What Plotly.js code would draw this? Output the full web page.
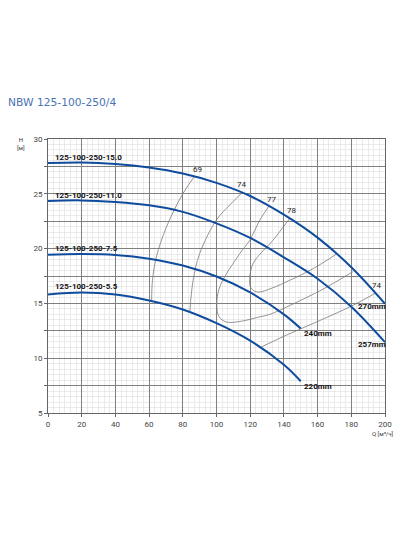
<!DOCTYPE html>
<html>
<head>
<meta charset="utf-8">
<script src="https://cdn.plot.ly/plotly-3.0.1.min.js"></script>
<style>html,body{margin:0;padding:0;background:#fff;}#chart{width:400px;height:534px;}</style>
</head>
<body>
<div id="chart"></div>
<script>
// Pump curves (Q in m3/h, H in m)
const q270 = [0, 20, 40, 60, 80, 100, 120, 140, 160, 180, 200];
const h270 = [27.8, 27.85, 27.72, 27.4, 26.85, 26.0, 24.8, 23.1, 21.0, 18.3, 14.97];
const q257 = [0, 20, 40, 60, 80, 100, 120, 140, 160, 180, 200];
const h257 = [24.35, 24.4, 24.25, 23.95, 23.35, 22.3, 20.97, 19.2, 17.25, 14.7, 11.46];
const q240 = [0, 20, 40, 60, 80, 100, 120, 140, 150];
const h240 = [19.45, 19.5, 19.42, 19.08, 18.45, 17.45, 16.0, 14.0, 12.7];
const q220 = [0, 20, 40, 60, 80, 100, 120, 140, 150];
const h220 = [15.82, 16.0, 15.82, 15.27, 14.45, 13.2, 11.6, 9.4, 7.9];

// Efficiency iso-lines
const qE69 = [87.0, 80.1, 70.3, 64.3, 62.0, 61.5];
const hE69 = [26.6, 25.03, 21.98, 19.23, 17.1, 15.25];
const qE74a = [114.8, 108, 99.9, 90, 86.1, 84.2];
const hE74a = [25.05, 24.0, 22.6, 19.54, 17.1, 14.3];
const qE77 = [131, 125.7, 119.7, 113.8, 101.9, 100.2, 101.5, 105.9, 115.7, 123.7, 131.6, 143.4, 163.2, 181];
const hE77 = [23.85, 22.6, 20.76, 19.54, 16.5, 14.8, 13.8, 13.3, 13.4, 13.7, 14.0, 14.8, 16.3, 17.9];
const qE78 = [143.4, 133.5, 121.7, 119.7, 121, 124.6, 133, 143.4, 157.3, 171.2];
const hE78 = [22.74, 20.76, 18.63, 16.8, 16.3, 16.03, 16.4, 17.1, 18.17, 19.5];
const qE74b = [194.5, 180, 160, 140, 125.7];
const hE74b = [15.95, 14.75, 13.35, 12.0, 10.95];

// Labels
const modelNames = ['125-100-250-15.0', '125-100-250-11.0', '125-100-250-7.5', '125-100-250-5.5'];
const modelQ = [3, 3, 3, 3];
const modelH = [28.3, 24.8, 20.0, 16.5];
const diamNames = ['270mm', '257mm', '240mm', '220mm'];
const diamQ = [183, 183, 151, 151];
const diamH = [14.72, 11.24, 12.22, 7.4];
const effNames = ['69', '74', '77', '78', '74'];
const effQ = [88.5, 115, 132.6, 144.4, 195];
const effH = [27.2, 25.85, 24.5, 23.45, 16.65];

const yTickVals = [5, 7.5, 10, 12.5, 15, 17.5, 20, 22.5, 25, 27.5, 30];
const yTickText = ['5', '', '10', '', '15', '', '20', '', '25', '', '30'];

const blue = '#0f4c9e';
const grey = '#7a7a7a';

function curve(q, h) {
  return {x: q, y: h, type: 'scatter', mode: 'lines', line: {color: blue, width: 2, shape: 'spline', smoothing: 1}, hoverinfo: 'skip', showlegend: false};
}
function eff(q, h) {
  return {x: q, y: h, type: 'scatter', mode: 'lines', line: {color: grey, width: 0.8, shape: 'spline', smoothing: 1}, hoverinfo: 'skip', showlegend: false};
}

const traces = [
  eff(qE69, hE69), eff(qE74a, hE74a), eff(qE77, hE77), eff(qE78, hE78), eff(qE74b, hE74b),
  curve(q270, h270), curve(q257, h257), curve(q240, h240), curve(q220, h220)
];

const annotations = [];
modelNames.forEach((t, i) => annotations.push({x: modelQ[i], y: modelH[i], xref: 'x', yref: 'y', text: '<b>' + t + '</b>', showarrow: false, xanchor: 'left', yanchor: 'middle', font: {family: 'Roboto', size: 8, color: '#111'}}));
diamNames.forEach((t, i) => annotations.push({x: diamQ[i], y: diamH[i], xref: 'x', yref: 'y', text: '<b>' + t + '</b>', showarrow: false, xanchor: 'left', yanchor: 'middle', font: {family: 'Roboto', size: 8, color: '#111'}}));
effNames.forEach((t, i) => annotations.push({x: effQ[i], y: effH[i], xref: 'x', yref: 'y', text: t, showarrow: false, xanchor: 'center', yanchor: 'middle', font: {family: 'Roboto', size: 8, color: '#222'}}));
annotations.push({x: -0.08, y: 0.982, xref: 'paper', yref: 'paper', text: 'H<br>[м]', showarrow: false, xanchor: 'center', yanchor: 'middle', align: 'center', font: {family: 'Roboto', size: 6, color: '#333'}});
annotations.push({x: 0.995, y: -0.073, xref: 'paper', yref: 'paper', text: 'Q [м³/ч]', showarrow: false, xanchor: 'center', yanchor: 'middle', font: {family: 'Roboto', size: 6, color: '#333'}});
annotations.push({x: 7 / 400, y: 1 + (139 - 103) / 274, xref: 'paper', yref: 'paper', text: 'NBW 125-100-250/4', showarrow: false, xanchor: 'left', yanchor: 'middle', xshift: -48, font: {family: 'DejaVu Sans', size: 10.7, color: '#4a74b5'}});

const layout = {
  width: 400, height: 534, autosize: false,
  margin: {l: 48, r: 15, t: 139, b: 121, pad: 0},
  paper_bgcolor: '#fff', plot_bgcolor: '#fff',
  showlegend: false,
  xaxis: {
    range: [0, 200], tickmode: 'linear', tick0: 0, dtick: 20,
    showgrid: true, gridcolor: '#808080', gridwidth: 1,
    minor: {dtick: 20 / 6, tick0: 0, showgrid: true, gridcolor: '#dedede', gridwidth: 0.6},
    showline: true, linecolor: '#666', linewidth: 1, mirror: true,
    ticks: 'outside', ticklen: 3, tickcolor: '#666',
    tickfont: {family: 'Roboto', size: 8, color: '#444'}, zeroline: false, fixedrange: true
  },
  yaxis: {
    range: [5, 30], tickmode: 'array', tickvals: yTickVals, ticktext: yTickText,
    showgrid: true, gridcolor: '#808080', gridwidth: 1,
    minor: {dtick: 0.5, tick0: 0, showgrid: true, gridcolor: '#dedede', gridwidth: 0.6},
    showline: true, linecolor: '#666', linewidth: 1, mirror: true,
    ticks: 'outside', ticklen: 3, tickcolor: '#666',
    tickfont: {family: 'Roboto', size: 8, color: '#444'}, zeroline: false, fixedrange: true
  },
  annotations: annotations
};

Plotly.newPlot('chart', traces, layout, {displayModeBar: false, staticPlot: true});
</script>
</body>
</html>
